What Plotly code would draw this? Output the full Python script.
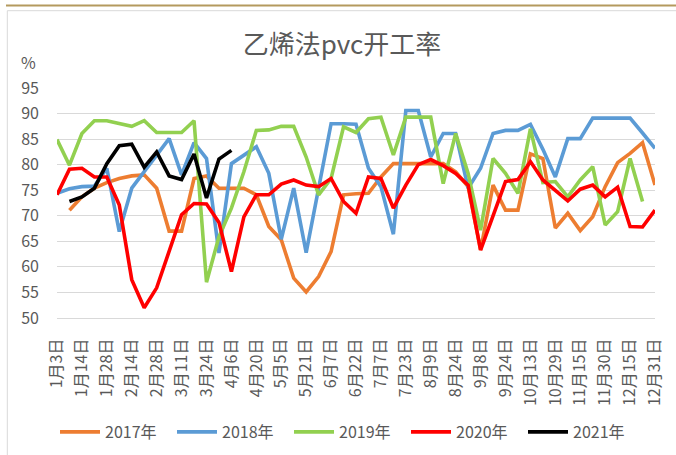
import plotly.graph_objects as go

categories = [
    "1月3日", "1月9日", "1月14日", "1月21日", "1月28日", "2月6日", "2月14日", "2月21日",
    "2月28日", "3月5日", "3月11日", "3月18日", "3月24日", "3月31日", "4月6日", "4月13日",
    "4月20日", "4月27日", "5月5日", "5月13日", "5月21日", "5月29日", "6月7日", "6月14日",
    "6月22日", "6月29日", "7月7日", "7月15日", "7月23日", "8月1日", "8月9日", "8月16日",
    "8月24日", "8月31日", "9月8日", "9月16日", "9月24日", "10月3日", "10月13日", "10月21日",
    "10月29日", "11月6日", "11月15日", "11月22日", "11月30日", "12月7日", "12月15日", "12月23日",
    "12月31日",
]
tick_labels = categories[::2]

y2017 = [None, 71.1, 73.7, 75.4, 76.5, 77.3, 77.8, 78.0, 75.4, 67.0, 67.0, 77.3, 77.8,
         75.4, 75.4, 75.4, 74.1, 67.9, 65.3, 57.8, 55.1, 58.1, 63.0, 74.1, 74.3, 74.4,
         77.6, 80.2, 80.2, 80.2, 80.2, 80.2, 78.6, 75.7, 63.3, 76.0, 71.1, 71.1, 82.1,
         81.2, 67.6, 70.5, 67.1, 69.8, 75.7, 80.4, 82.2, 84.3, 76.0]
y2018 = [74.4, 75.3, 75.7, 75.8, 79.3, 66.9, 75.4, 78.6, 81.9, 85.1, 78.0, 84.3, 81.2,
         62.7, 80.2, 81.8, 83.5, 78.3, 65.4, 75.4, 62.8, 75.4, 88.0, 88.0, 87.9, 79.3,
         75.7, 66.4, 90.6, 90.6, 81.5, 86.1, 86.1, 75.4, 79.3, 86.1, 86.7, 86.7, 87.9,
         83.0, 77.6, 85.1, 85.1, 89.1, 89.1, 89.1, 89.1, 86.2, 83.2]
y2019 = [84.9, 79.9, 86.1, 88.6, 88.6, 88.0, 87.5, 88.6, 86.3, 86.3, 86.3, 88.6, 57.0,
         65.9, 71.5, 78.6, 86.7, 86.8, 87.5, 87.5, 81.5, 74.1, 77.3, 87.4, 86.3, 89.0,
         89.3, 81.9, 89.3, 89.3, 89.3, 76.3, 86.1, 78.3, 67.2, 81.2, 78.3, 74.4, 87.0,
         76.5, 76.7, 73.7, 77.0, 79.6, 68.2, 70.8, 81.2, 72.8, None]
y2020 = [74.1, 79.1, 79.3, 77.6, 77.6, 72.1, 57.5, 52.0, 55.9, 63.0, 70.2, 72.4, 72.3,
         68.7, 59.1, 69.8, 74.1, 74.1, 76.2, 77.0, 76.0, 75.7, 77.3, 72.8, 70.5, 77.6,
         77.3, 71.5, 76.0, 80.0, 81.0, 79.8, 78.3, 76.0, 63.3, 70.0, 76.7, 77.1, 80.6,
         77.0, 75.0, 72.9, 75.2, 76.0, 73.7, 75.6, 67.9, 67.8, 71.1]
y2021 = [None, 72.8, 73.7, 75.4, 80.2, 83.7, 84.0, 79.5, 82.5, 77.8, 77.1, 82.1, 73.5,
         81.1, 82.8]

series = [
    ("2017年", y2017, "#ED7D31"),
    ("2018年", y2018, "#5B9BD5"),
    ("2019年", y2019, "#92D050"),
    ("2020年", y2020, "#FF0000"),
    ("2021年", y2021, "#000000"),
]

W, H = 676, 455
L, R, T, B = 57, 21, 88, 137
PW, PH = W - L - R, H - T - B


def px(x):
    return (x - L) / PW


def py(y):
    return (H - B - y) / PH


FONT = "Noto Sans CJK SC"
GREY = "#595959"

fig = go.Figure()
for name, vals, color in series:
    fig.add_trace(go.Scatter(
        x=categories[:len(vals)], y=vals, name=name, mode="lines",
        line=dict(color=color, width=3.6), connectgaps=False,
    ))

fig.update_layout(
    width=W, height=H,
    margin=dict(l=L, r=R, t=T, b=B, autoexpand=False),
    paper_bgcolor="white", plot_bgcolor="white",
    font=dict(family=FONT, color=GREY, size=16),
    title=dict(text="乙烯法pvc开工率", x=342 / W, xanchor="center",
               y=1 - 45 / H, yanchor="middle",
               font=dict(family=FONT, size=26, color=GREY)),
    showlegend=True,
    legend=dict(orientation="h", x=px(55), y=py(432), xanchor="left", yanchor="middle",
                font=dict(family=FONT, size=16, color=GREY),
                entrywidth=62, entrywidthmode="pixels", itemwidth=40,
                bgcolor="rgba(0,0,0,0)"),
    xaxis=dict(type="category", categoryorder="array", categoryarray=categories,
               tickmode="array", tickvals=tick_labels, ticktext=tick_labels,
               tickangle=-90, range=[0, len(categories) - 1], showgrid=False,
               showline=True, linecolor="#D9D9D9", linewidth=1.3, ticks="",
               tickfont=dict(family=FONT, size=16, color=GREY), automargin=False,
               ticklabelstandoff=13, zeroline=False),
    yaxis=dict(range=[50, 95], dtick=5, tick0=50, showgrid=True,
               gridcolor="#D9D9D9", gridwidth=1.3, zeroline=False, showline=False,
               ticks="", tickfont=dict(family=FONT, size=16, color=GREY), automargin=False,
               ticklabelstandoff=17),
    annotations=[dict(text="%", x=px(28), y=py(62), xref="paper", yref="paper",
                      showarrow=False, xanchor="center", yanchor="middle",
                      font=dict(family=FONT, size=16, color=GREY))],
    shapes=[
        dict(type="line", xref="paper", yref="paper", x0=px(6), x1=px(W + 2),
             y0=py(5.5), y1=py(5.5), line=dict(color="#B49A5E", width=2.2)),
        dict(type="rect", xref="paper", yref="paper", x0=px(7.3), x1=px(W + 5),
             y0=py(10.7), y1=py(H + 5), line=dict(color="#D9D9D9", width=1)),
    ],
)

fig.write_html("out.html", config={"displayModeBar": False},
               post_script="document.body.style.margin='0';document.body.style.overflow='hidden';")
